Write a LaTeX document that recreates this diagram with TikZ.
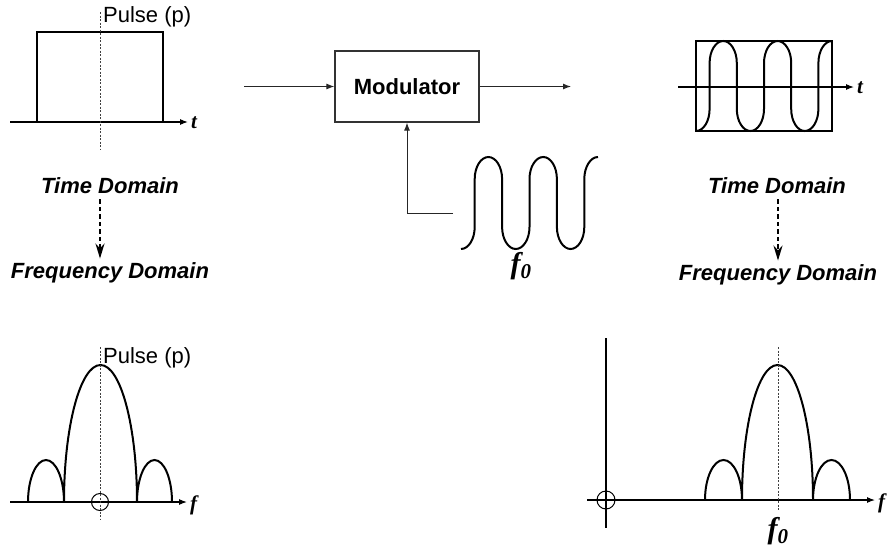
\documentclass[tikz,border=0pt]{standalone}
\usepackage{fontspec}
\setmainfont{Liberation Sans}
\newfontfamily\varfont{Liberation Serif}
\usetikzlibrary{arrows.meta,positioning}

\begin{document}
\begin{tikzpicture}[x=1pt,y=-1pt,
  axis/.style={line width=1.1pt,-{Latex[length=8pt,width=6pt]}},
  flow/.style={line width=1pt,draw=black!85,-{Latex[length=8pt,width=6pt]}},
  wave/.style={line width=2pt},
  guide/.style={line width=0.8pt,dash pattern=on 2pt off 1.5pt,draw=black!75},
  convert/.style={line width=2pt,dash pattern=on 4.5pt off 3pt,-{Stealth[length=15pt,width=9pt]}},
  caption/.style={font=\fontsize{22}{24}\selectfont\bfseries\itshape,inner sep=0pt},
  tag/.style={font=\fontsize{22}{24}\selectfont,anchor=west,inner sep=0pt},
  var/.style={font=\varfont\fontsize{21}{23}\selectfont\bfseries\itshape,inner xsep=3pt,inner ysep=1pt,anchor=west},
  freq/.style={font=\varfont\fontsize{30}{32}\selectfont\bfseries\itshape,inner sep=1pt},
  block/.style={draw=black!80,line width=1.2pt,minimum width=144pt,minimum height=71pt,font=\fontsize{22}{24}\selectfont\bfseries}
]
\useasboundingbox (0,0) rectangle (892,552);

% pulse in time
\coordinate (ta) at (10,122);
\node[var] (t1) at (188,123) {t};
\draw[axis] (ta) -- (ta -| t1.west);
\draw[wave] (37,122) |- (163,32) -- (163,122);
\draw[guide] (100,12) -- (100,150);
\node[tag] (p1) at (103,17) {Pulse (p)};
\node[caption] (td1) at (110,186) {Time Domain};
\node[caption] (fd1) at (110,273) {Frequency Domain};
\draw[convert] ([xshift=-10pt,yshift=-5pt]td1.south) -- ([xshift=-10pt,yshift=4pt]fd1.north);

% modulator
\node[block] (mod) at (407,86.5) {Modulator};
\coordinate (in) at (244,86.5);
\coordinate (out) at (571,86.5);
\draw[flow] (in) -- (mod);
\draw[flow] (mod) -- (out);
\coordinate (lo) at (453,213);
\draw[flow] (lo) -| (mod.south);
\draw[wave] (461,249) \foreach \k in {0,1} {
    .. controls +(7.5,0) and +(0,12.1) .. ++(13.7,-22) -- ++(0,-48) .. controls +(0,-12.1) and +(-7.5,0) .. ++(13.7,-22)
    .. controls +(7.5,0) and +(0,-12.1) .. ++(13.7,22) -- ++(0,48) .. controls +(0,12.1) and +(-7.5,0) .. ++(13.7,22) }
  .. controls +(7.5,0) and +(0,12.1) .. ++(13.7,-22) -- ++(0,-48) .. controls +(0,-12.1) and +(-7.5,0) .. ++(13.7,-22);
\node[freq] (f0a) at (521,266) {f\textsubscript{0}};

% modulated pulse
\coordinate (tb) at (678,87);
\node[var] (t2) at (854,88) {t};
\draw[axis] (tb) -- (tb -| t2.west);
\draw[wave] (696,41) rectangle (832,131);
\draw[wave] (696,131) \foreach \k in {0,1} {
    .. controls +(7.5,0) and +(0,12.1) .. ++(13.6,-22) -- ++(0,-46) .. controls +(0,-12.1) and +(-7.5,0) .. ++(13.6,-22)
    .. controls +(7.5,0) and +(0,-12.1) .. ++(13.6,22) -- ++(0,46) .. controls +(0,12.1) and +(-7.5,0) .. ++(13.6,22) }
  .. controls +(7.5,0) and +(0,12.1) .. ++(13.6,-22) -- ++(0,-46) .. controls +(0,-12.1) and +(-7.5,0) .. ++(13.6,-22);
\node[caption] (td2) at (777,186) {Time Domain};
\node[caption] (fd2) at (778,275) {Frequency Domain};
\draw[convert] ([xshift=1pt,yshift=-5pt]td2.south) -- ([yshift=4pt]fd2.north);

% pulse spectrum
\coordinate (fa) at (10,502);
\node[var] (f1) at (187,505) {f};
\draw[axis] (fa) -- (fa -| f1.west);
\draw[wave] (28,502) arc[start angle=180,end angle=0,x radius=18pt,y radius=42pt]
  arc[start angle=180,end angle=0,x radius=36.5pt,y radius=137pt]
  arc[start angle=180,end angle=0,x radius=17.5pt,y radius=42pt];
\draw[line width=1pt] (100,502) circle[radius=8.5pt];
\draw[guide] (100,347) -- (100,520);
\node[tag] (p2) at (103,358) {Pulse (p)};

% shifted spectrum
\coordinate (fb) at (587,500);
\node[var] (f2) at (875,503) {f};
\draw[axis] (fb) -- (fb -| f2.west);
\draw[line width=1.1pt] (606,338) -- (606,528);
\draw[line width=1pt] (606,500) circle[radius=9pt];
\draw[wave] (705,500) arc[start angle=180,end angle=0,x radius=18.5pt,y radius=40pt]
  arc[start angle=180,end angle=0,x radius=35.5pt,y radius=135pt]
  arc[start angle=180,end angle=0,x radius=18.5pt,y radius=40pt];
\draw[guide] (778,347) -- (778,511);
\node[freq] (f0b) at (778,531) {f\textsubscript{0}};
\end{tikzpicture}
\end{document}
